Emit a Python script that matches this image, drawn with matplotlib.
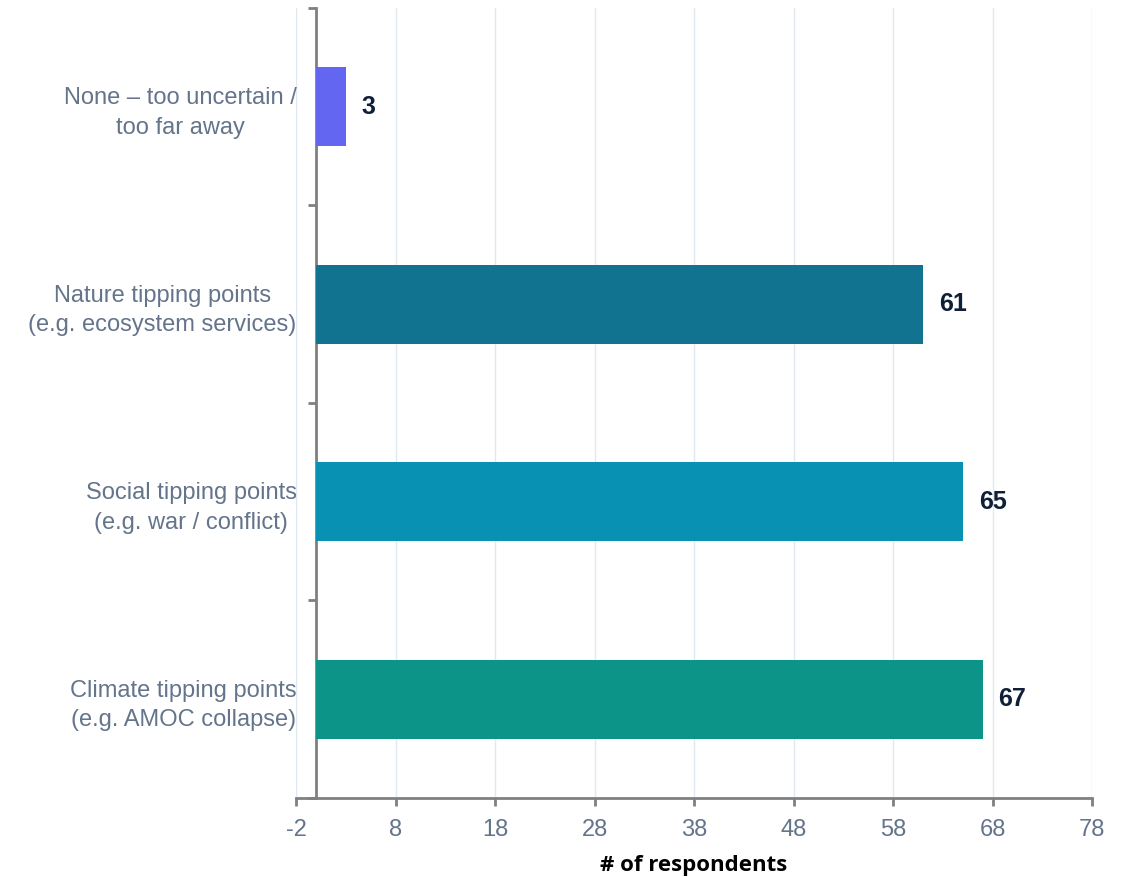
import matplotlib
matplotlib.use('Agg')
import matplotlib.pyplot as plt
from matplotlib.ticker import FixedLocator

plt.rcParams['font.family'] = ['Liberation Sans', 'DejaVu Sans']
plt.rcParams['axes.unicode_minus'] = False

categories = [
    'None \u2013 too uncertain /\ntoo far away',
    'Nature tipping points\n(e.g. ecosystem services)',
    'Social tipping points\n(e.g. war / conflict)',
    'Climate tipping points\n(e.g. AMOC collapse)',
]
counts = [3, 61, 65, 67]
colors = ['#6366f1', '#11738f', '#0891b2', '#0d9488']
xticks = [-2, 8, 18, 28, 38, 48, 58, 68, 78]

LABEL_COLOR = '#64748b'
SPINE_COLOR = '#808080'

fig = plt.figure(figsize=(11.27, 8.77), dpi=100)
ax = fig.add_axes([0.2627, 0.0901, 0.7063, 0.9008])

ypos = list(range(len(categories)))
ax.barh(ypos, counts, height=0.4, color=colors, zorder=3)

for y, v in zip(ypos, counts):
    ax.text(v + 1.6, y, str(v), va='center', ha='left',
            fontsize=18, fontweight='bold', color='#0f1f3a', zorder=4)

ax.set_xlim(-2, 78)
ax.set_ylim(len(categories) - 0.5, -0.5)
ax.set_xticks(xticks)
ax.tick_params(axis='x', colors=SPINE_COLOR, labelcolor=LABEL_COLOR,
               labelsize=17, length=6, width=2, pad=9)

ax.set_yticks(ypos)
ax.set_yticklabels(categories)
ax.yaxis.set_minor_locator(FixedLocator([-0.5, 0.5, 1.5, 2.5, 3.5]))
ax.tick_params(axis='y', which='major', length=0, labelsize=17,
               labelcolor=LABEL_COLOR, pad=14)
ax.tick_params(axis='y', which='minor', length=6, width=2, color=SPINE_COLOR)

ax.grid(axis='x', color='#e2e8f0', linewidth=1, zorder=0)

ax.spines['left'].set_position(('data', 0))
ax.spines['left'].set_color(SPINE_COLOR)
ax.spines['left'].set_linewidth(2)
ax.spines['bottom'].set_color(SPINE_COLOR)
ax.spines['bottom'].set_linewidth(2)
ax.spines['top'].set_visible(False)
ax.spines['right'].set_visible(False)

ax.set_xlabel('# of respondents', fontsize=16, fontweight='bold',
              color='black', family=['Open Sans', 'DejaVu Sans'], labelpad=10)

# two-line category labels centred on themselves
for tick in ax.yaxis.get_major_ticks():
    tick.label1.set_multialignment('center')
    tick.label1.set_linespacing(1.45)

fig.savefig('out.png', dpi=100)
